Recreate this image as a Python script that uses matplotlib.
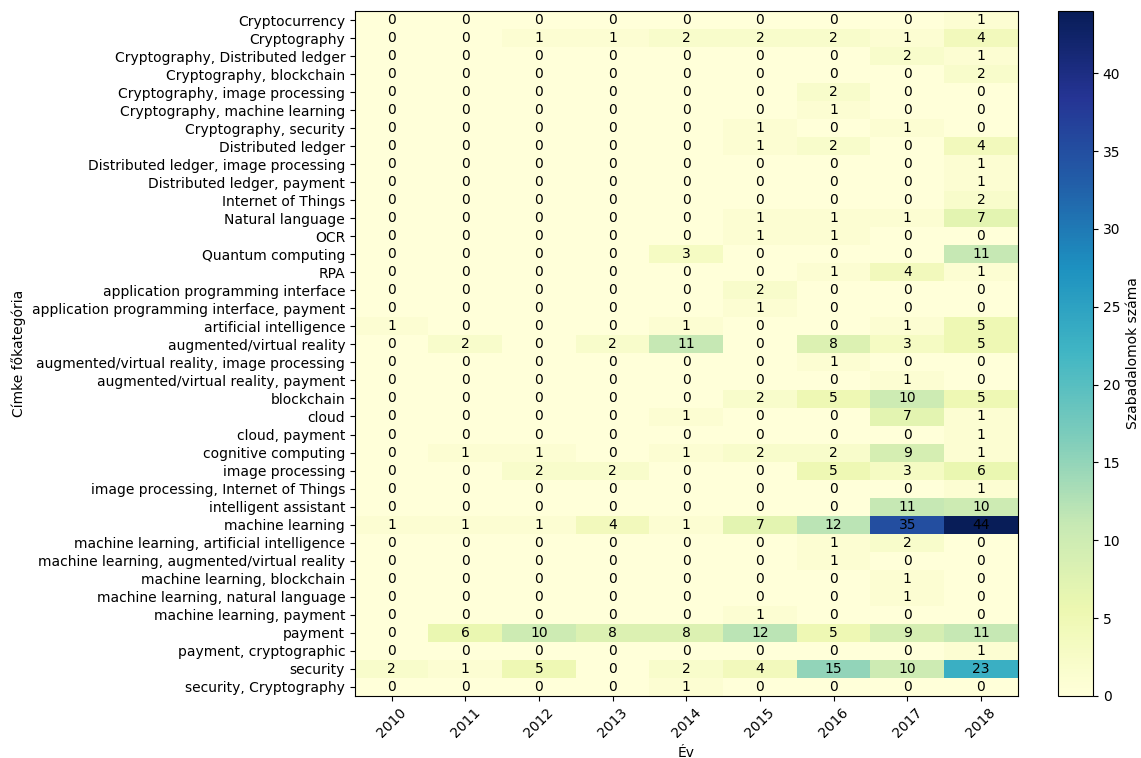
import numpy as np
import matplotlib
matplotlib.use("Agg")
import matplotlib.pyplot as plt

categories = [
    "Cryptocurrency", "Cryptography", "Cryptography, Distributed ledger",
    "Cryptography, blockchain", "Cryptography, image processing",
    "Cryptography, machine learning", "Cryptography, security",
    "Distributed ledger", "Distributed ledger, image processing",
    "Distributed ledger, payment", "Internet of Things", "Natural language",
    "OCR", "Quantum computing", "RPA", "application programming interface",
    "application programming interface, payment", "artificial intelligence",
    "augmented/virtual reality", "augmented/virtual reality, image processing",
    "augmented/virtual reality, payment", "blockchain", "cloud",
    "cloud, payment", "cognitive computing", "image processing",
    "image processing, Internet of Things", "intelligent assistant",
    "machine learning", "machine learning, artificial intelligence",
    "machine learning, augmented/virtual reality",
    "machine learning, blockchain", "machine learning, natural language",
    "machine learning, payment", "payment", "payment, cryptographic",
    "security", "security, Cryptography",
]

years = ["2010", "2011", "2012", "2013", "2014", "2015", "2016", "2017", "2018"]

y2010 = [0, 0, 0, 0, 0, 0, 0, 0, 0, 0, 0, 0, 0, 0, 0, 0, 0, 1, 0, 0, 0, 0, 0, 0, 0, 0, 0, 0, 1, 0, 0, 0, 0, 0, 0, 0, 2, 0]
y2011 = [0, 0, 0, 0, 0, 0, 0, 0, 0, 0, 0, 0, 0, 0, 0, 0, 0, 0, 2, 0, 0, 0, 0, 0, 1, 0, 0, 0, 1, 0, 0, 0, 0, 0, 6, 0, 1, 0]
y2012 = [0, 1, 0, 0, 0, 0, 0, 0, 0, 0, 0, 0, 0, 0, 0, 0, 0, 0, 0, 0, 0, 0, 0, 0, 1, 2, 0, 0, 1, 0, 0, 0, 0, 0, 10, 0, 5, 0]
y2013 = [0, 1, 0, 0, 0, 0, 0, 0, 0, 0, 0, 0, 0, 0, 0, 0, 0, 0, 2, 0, 0, 0, 0, 0, 0, 2, 0, 0, 4, 0, 0, 0, 0, 0, 8, 0, 0, 0]
y2014 = [0, 2, 0, 0, 0, 0, 0, 0, 0, 0, 0, 0, 0, 3, 0, 0, 0, 1, 11, 0, 0, 0, 1, 0, 1, 0, 0, 0, 1, 0, 0, 0, 0, 0, 8, 0, 2, 1]
y2015 = [0, 2, 0, 0, 0, 0, 1, 1, 0, 0, 0, 1, 1, 0, 0, 2, 1, 0, 0, 0, 0, 2, 0, 0, 2, 0, 0, 0, 7, 0, 0, 0, 0, 1, 12, 0, 4, 0]
y2016 = [0, 2, 0, 0, 2, 1, 0, 2, 0, 0, 0, 1, 1, 0, 1, 0, 0, 0, 8, 1, 0, 5, 0, 0, 2, 5, 0, 0, 12, 1, 1, 0, 0, 0, 5, 0, 15, 0]
y2017 = [0, 1, 2, 0, 0, 0, 1, 0, 0, 0, 0, 1, 0, 0, 4, 0, 0, 1, 3, 0, 1, 10, 7, 0, 9, 3, 0, 11, 35, 2, 0, 1, 1, 0, 9, 0, 10, 0]
y2018 = [1, 4, 1, 2, 0, 0, 0, 4, 1, 1, 2, 7, 0, 11, 1, 0, 0, 5, 5, 0, 0, 5, 1, 1, 1, 6, 1, 10, 44, 0, 0, 0, 0, 0, 11, 1, 23, 0]

data = np.array([y2010, y2011, y2012, y2013, y2014, y2015, y2016, y2017, y2018]).T

fig = plt.figure(figsize=(11.41, 7.58), dpi=100)
ax = fig.add_axes([0.311, 0.082, 0.581, 0.9035])
cax = fig.add_axes([0.927, 0.082, 0.031, 0.9035])

im = ax.imshow(data, cmap="YlGnBu", aspect="auto", vmin=0, vmax=data.max())
ax.set_xticks(np.arange(len(years)))
ax.set_xticklabels(years, rotation=45)
ax.set_yticks(np.arange(len(categories)))
ax.set_yticklabels(categories)
ax.set_xlabel("Év")
ax.set_ylabel("Címke főkategória")

for i in range(data.shape[0]):
    for j in range(data.shape[1]):
        ax.text(j, i, str(data[i, j]), ha="center", va="center", color="black", fontsize=10)

cb = fig.colorbar(im, cax=cax)
cb.set_label("Szabadalomok száma")

fig.savefig("out.png", dpi=100)
